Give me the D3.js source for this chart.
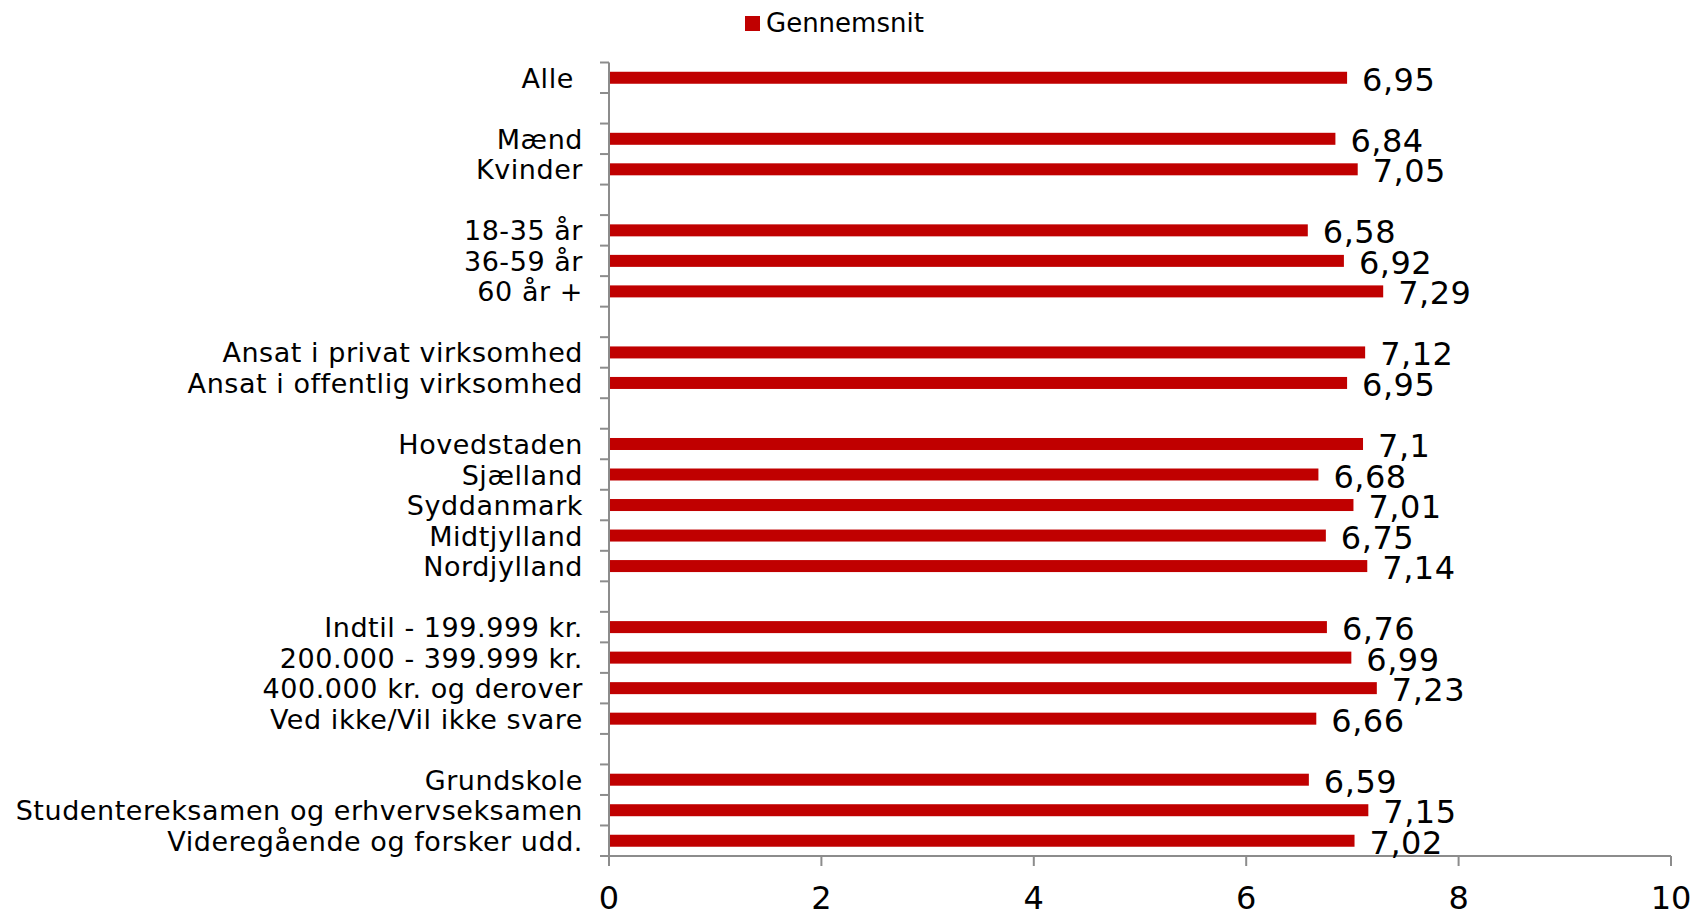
<!DOCTYPE html>
<html>
<head>
<meta charset="utf-8">
<script src="https://cdn.jsdelivr.net/npm/d3@7"></script>
<style>
  body { margin: 0; background: #fff; }
  svg { display: block; font-family: Verdana, "DejaVu Sans", sans-serif; }
  .cat { white-space: pre; }
</style>
</head>
<body>
<svg width="1692" height="911"></svg>
<script>
// labels, grouped as in the report (a blank row between groups)
var categories = [
  "Alle ",
  "Mænd", "Kvinder",
  "18-35 år", "36-59 år", "60 år +",
  "Ansat i privat virksomhed", "Ansat i offentlig virksomhed",
  "Hovedstaden", "Sjælland", "Syddanmark", "Midtjylland", "Nordjylland",
  "Indtil - 199.999 kr.", "200.000 - 399.999 kr.", "400.000 kr. og derover", "Ved ikke/Vil ikke svare",
  "Grundskole", "Studentereksamen og erhvervseksamen", "Videregående og forsker udd."
];
var groupSizes = [1, 2, 3, 2, 5, 4, 3];
var values = [6.95, 6.84, 7.05, 6.58, 6.92, 7.29, 7.12, 6.95, 7.1, 6.68, 7.01, 6.75, 7.14,
              6.76, 6.99, 7.23, 6.66, 6.59, 7.15, 7.02];
var xTicks = [0, 2, 4, 6, 8, 10];
var seriesName = "Gennemsnit";

var RED = "#C00000", AXIS = "#8c8c8c";

// build the rows incl. empty spacer rows
var rows = [], k = 0;
groupSizes.forEach(function (n, g) {
  for (var i = 0; i < n; i++, k++) {
    rows.push({ id: "r" + k, label: categories[k], value: values[k] });
  }
  if (g < groupSizes.length - 1) rows.push({ id: "gap" + g, label: "", value: null });
});

var svg = d3.select("svg");

var x = d3.scaleLinear().domain([0, 10]).range([609, 1671]);
var y = d3.scaleBand().domain(rows.map(function (d) { return d.id; })).range([62.5, 856]).padding(0);
var bw = y.bandwidth();
var barH = 12;

// x axis
var xAxis = svg.append("g").attr("transform", "translate(0," + y.range()[1] + ")");
xAxis.append("line")
  .attr("x1", x(0)).attr("x2", x(10))
  .attr("stroke", AXIS).attr("stroke-width", 2);
xAxis.selectAll("line.tick").data(xTicks).enter().append("line")
  .attr("class", "tick")
  .attr("x1", function (d) { return x(d); }).attr("x2", function (d) { return x(d); })
  .attr("y1", 0).attr("y2", 10)
  .attr("stroke", AXIS).attr("stroke-width", 2);
xAxis.selectAll("text").data(xTicks).enter().append("text")
  .attr("x", function (d) { return x(d); })
  .attr("y", 53)
  .attr("text-anchor", "middle")
  .attr("font-size", 32)
  .attr("fill", "#000")
  .text(function (d) { return d; });

// y axis with ticks at row boundaries
var bounds = rows.map(function (d) { return y(d.id); }).concat([y.range()[1]]);
svg.append("line")
  .attr("x1", x(0)).attr("x2", x(0))
  .attr("y1", y.range()[0]).attr("y2", y.range()[1])
  .attr("stroke", AXIS).attr("stroke-width", 2);
svg.selectAll("line.ytick").data(bounds).enter().append("line")
  .attr("class", "ytick")
  .attr("x1", x(0) - 9).attr("x2", x(0))
  .attr("y1", function (d) { return d; }).attr("y2", function (d) { return d; })
  .attr("stroke", AXIS).attr("stroke-width", 2);

var data = rows.filter(function (d) { return d.value !== null; });

svg.selectAll("text.cat").data(data).enter().append("text")
  .attr("class", "cat")
  .attr("x", 583)
  .attr("y", function (d) { return y(d.id) + bw / 2 + 10; })
  .attr("text-anchor", "end")
  .attr("font-size", 27)
  .attr("letter-spacing", 0.55)
  .attr("fill", "#000")
  .text(function (d) { return d.label; });

// bars
svg.selectAll("rect.bar").data(data).enter().append("rect")
  .attr("class", "bar")
  .attr("x", x(0) + 1)
  .attr("y", function (d) { return y(d.id) + bw / 2 - barH / 2; })
  .attr("width", function (d) { return x(d.value) - x(0) - 1; })
  .attr("height", barH)
  .attr("fill", RED);

// value labels
svg.selectAll("text.val").data(data).enter().append("text")
  .attr("class", "val")
  .attr("x", function (d) { return x(d.value) + 15; })
  .attr("y", function (d) { return y(d.id) + bw / 2 + 13; })
  .attr("font-size", 32)
  .attr("letter-spacing", 0.5)
  .attr("fill", "#000")
  .text(function (d) { return String(d.value).replace(".", ","); });

// legend
var lg = svg.append("g");
lg.append("rect").attr("x", 745).attr("y", 16).attr("width", 15).attr("height", 15).attr("fill", RED);
lg.append("text").attr("x", 766).attr("y", 32).attr("font-size", 26).attr("fill", "#000").text(seriesName);
</script>
</body>
</html>
